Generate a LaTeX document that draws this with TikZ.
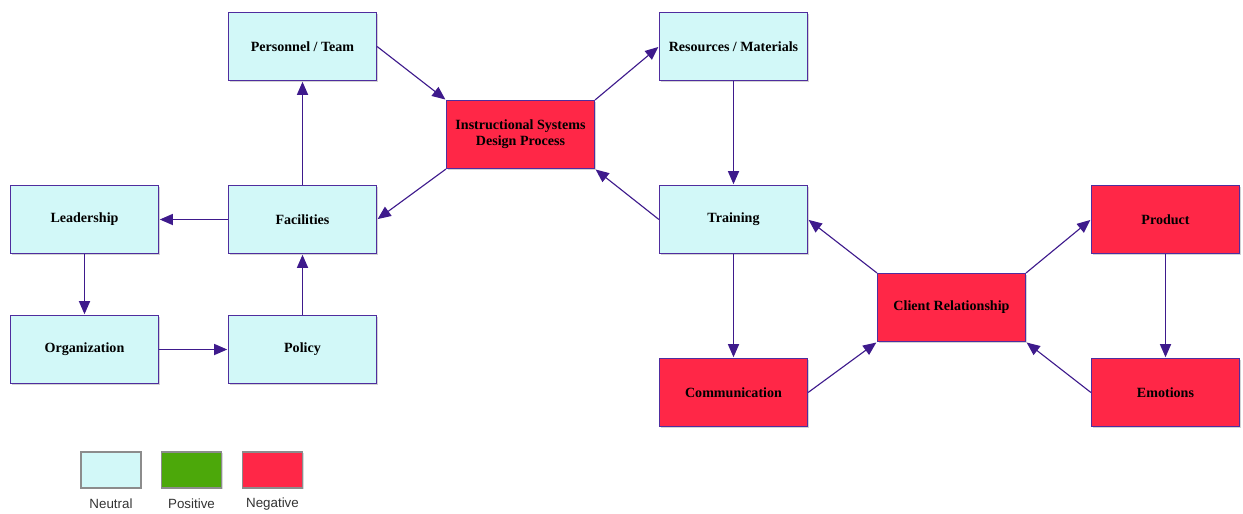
\documentclass[tikz,border=0pt]{standalone}
\usepackage{fontspec}
\setmainfont{Liberation Serif}
\newfontfamily\legendfont{Liberation Sans}
\usetikzlibrary{arrows.meta,shadows}
\definecolor{neutralfill}{HTML}{D2F8F8}
\definecolor{positivefill}{HTML}{4CA80A}
\definecolor{negativefill}{HTML}{FF2747}
\definecolor{boxline}{HTML}{4F2D9E}
\definecolor{arrowline}{HTML}{3E1A8C}
\begin{document}
\begin{tikzpicture}[x=0.025cm,y=-0.025cm]
        \tikzstyle{factor}=[rectangle,draw=boxline,line width=0.8pt,minimum width=3.7cm,minimum height=1.7cm,inner sep=0pt,align=center,font=\fontsize{10}{11.5}\selectfont\bfseries,drop shadow={shadow xshift=1.2pt,shadow yshift=-1.2pt,opacity=0.35}]
        \tikzstyle{neutral}=[factor,fill=neutralfill]
        \tikzstyle{negative}=[factor,fill=negativefill]
        \tikzstyle{key}=[rectangle,draw=black!45,line width=0.8pt,minimum width=1.5cm,minimum height=0.9cm,inner sep=0pt,drop shadow={shadow xshift=1pt,shadow yshift=-1pt,opacity=0.3}]
        \tikzstyle{keylabel}=[font=\legendfont\fontsize{9.5}{11}\selectfont,text=black!80]
        \tikzstyle{edge}=[draw=arrowline,line width=0.8pt,shorten >=0.5pt,-{Triangle[length=0.33cm,width=0.28cm]}]
        \useasboundingbox (0,0) rectangle (1243,513);
       \begin{scope}
         \node [neutral] (team) at (302.5,46.5) {Personnel / Team};
         \node [neutral] (res) at (733.5,46.5) {Resources / Materials};
         \node [negative] (isd) at (520.5,134.5) {Instructional Systems\\Design Process};
         \node [neutral] (lead) at (84.5,219.5) {Leadership};
         \node [neutral] (fac) at (302.5,219.5) {Facilities};
         \node [neutral] (train) at (733.5,219.5) {Training};
         \node [negative] (prod) at (1165.5,219.5) {Product};
         \node [neutral] (org) at (84.5,349.5) {Organization};
         \node [neutral] (pol) at (302.5,349.5) {Policy};
         \node [negative] (client) at (951.5,307.5) {Client Relationship};
         \node [negative] (comm) at (733.5,392.5) {Communication};
         \node [negative] (emo) at (1165.5,392.5) {Emotions};

         \path (team.east) edge [edge] (isd.north west);
         \path (isd.south west) edge [edge] (fac.east);
         \path (isd.north east) edge [edge] (res.west);
         \path (train.west) edge [edge] (isd.south east);

         \path (fac.north) edge [edge] (team.south);
         \path (fac.west) edge [edge] (lead.east);
         \path (lead.south) edge [edge] (org.north);
         \path (org.east) edge [edge] (pol.west);
         \path (pol.north) edge [edge] (fac.south);

         \path (res.south) edge [edge] (train.north);
         \path (train.south) edge [edge] (comm.north);
         \path (comm.east) edge [edge] (client.south west);
         \path (client.north west) edge [edge] (train.east);
         \path (client.north east) edge [edge] (prod.west);
         \path (prod.south) edge [edge] (emo.north);
         \path (emo.west) edge [edge] (client.south east);
        \end{scope}

        % legend
        \node [key,fill=neutralfill] (kneu) at (111,470) {};
        \node [key,fill=positivefill] (kpos) at (191.5,470) {};
        \node [key,fill=negativefill] (kneg) at (272.5,470) {};
        \node [keylabel] (lneu) at (111,504) {Neutral};
        \node [keylabel] (lpos) at (191.5,504) {Positive};
        \node [keylabel] (lneg) at (272.5,504) {Negative};
      \end{tikzpicture}
\end{document}
